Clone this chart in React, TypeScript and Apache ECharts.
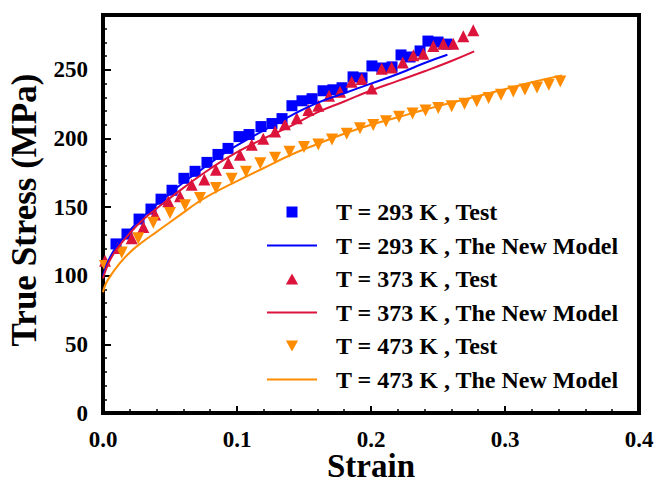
import React, { useEffect, useRef } from "react";
import * as echarts from "echarts";

// x-axis tick values (strain)
const xTickValues = [0, 0.1, 0.2, 0.3, 0.4];
// y-axis tick values (true stress, MPa)
const yTickValues = [0, 50, 100, 150, 200, 250];

const seriesNames = [
  "T = 293 K , Test",
  "T = 293 K , The New Model",
  "T = 373 K , Test",
  "T = 373 K , The New Model",
  "T = 473 K , Test",
  "T = 473 K , The New Model",
];

// T = 293 K test points [strain, stress]
const test293 = [
  [0.0097, 123.2], [0.0179, 130.4], [0.0269, 141.3], [0.0358, 148.6], [0.0433, 155.8],
  [0.0515, 162.3], [0.0604, 171.0], [0.0687, 176.1], [0.0776, 182.6], [0.0858, 188.4],
  [0.0933, 192.8], [0.1015, 201.4], [0.109, 202.9], [0.1179, 208.7], [0.1261, 210.9],
  [0.1336, 214.5], [0.141, 223.9], [0.1485, 227.5], [0.156, 229.0], [0.1642, 234.8],
  [0.1716, 235.5], [0.1784, 237.0], [0.1866, 244.9], [0.1933, 244.2], [0.2007, 252.9],
  [0.2082, 251.4], [0.2157, 252.2], [0.2224, 260.9], [0.2291, 259.4], [0.2366, 263.8],
  [0.2425, 271.0], [0.25, 270.3], [0.2567, 268.8],
];

// T = 293 K model curve
const model293 = [
  [0, 100], [0.002, 106], [0.005, 113], [0.01, 121], [0.02, 133], [0.03, 143], [0.04, 152],
  [0.05, 160], [0.06, 168], [0.07, 175], [0.08, 182], [0.09, 189], [0.1, 195], [0.12, 206],
  [0.14, 216.5], [0.16, 226], [0.18, 233], [0.2, 240], [0.22, 247], [0.24, 255], [0.257, 261],
];

// T = 373 K test points
const test373 = [
  [0.0015, 110.9], [0.0112, 120.3], [0.0214, 127.3], [0.0301, 135.5], [0.0388, 144.7],
  [0.0487, 154.3], [0.0575, 158.0], [0.0662, 166.4], [0.0756, 170.1], [0.0843, 177.3],
  [0.0935, 182.1], [0.1022, 188.2], [0.111, 195.4], [0.1196, 199.8], [0.1284, 205.1],
  [0.1358, 210.4], [0.1446, 214.7], [0.1532, 220.8], [0.1607, 223.9], [0.1687, 231.2],
  [0.1769, 234.1], [0.1856, 241.3], [0.1931, 243.3], [0.2005, 236.4], [0.208, 250.9],
  [0.2154, 251.7], [0.2237, 255.3], [0.2316, 260.7], [0.239, 261.8], [0.2465, 267.4],
  [0.254, 269.1], [0.2614, 269.1], [0.2689, 274.6], [0.2763, 278.8],
];

// T = 373 K model curve
const model373 = [
  [0, 98], [0.002, 104], [0.005, 111], [0.01, 119], [0.02, 131], [0.03, 141], [0.04, 149],
  [0.06, 164], [0.08, 178], [0.1, 190], [0.12, 200], [0.14, 209], [0.16, 219], [0.18, 227],
  [0.2, 235], [0.22, 242], [0.24, 249], [0.26, 256.5], [0.277, 263.5],
];

// T = 473 K test points
const test473 = [
  [0.0015, 107.2], [0.014, 116.9], [0.0263, 127.3], [0.0375, 138.6], [0.05, 145.7],
  [0.0612, 151.4], [0.0724, 156.7], [0.0843, 164.0], [0.096, 170.7], [0.1067, 175.7],
  [0.1174, 181.9], [0.1284, 185.9], [0.1392, 190.4], [0.15, 193.8], [0.1607, 195.7],
  [0.1709, 199.3], [0.1819, 203.5], [0.1918, 207.5], [0.2017, 209.9], [0.2112, 212.6],
  [0.2209, 215.9], [0.231, 218.3], [0.2407, 220.4], [0.2502, 222.2], [0.2602, 223.6],
  [0.2698, 225.4], [0.2789, 227.1], [0.2878, 229.5], [0.297, 231.9], [0.3062, 234.3],
  [0.3149, 235.7], [0.3239, 237.2], [0.3327, 239.1], [0.3413, 241.6],
];

// T = 473 K model curve
const model473 = [
  [0, 88], [0.002, 94], [0.005, 99], [0.01, 106], [0.02, 117], [0.03, 125], [0.04, 132],
  [0.05, 139], [0.06, 146], [0.07, 153], [0.08, 159], [0.1, 169], [0.12, 178.5], [0.14, 188],
  [0.16, 196], [0.18, 203.5], [0.2, 210], [0.22, 215.5], [0.24, 221], [0.26, 226], [0.28, 231],
  [0.3, 236], [0.32, 241], [0.3425, 246],
];

const BLUE = "#0000FF";
const RED = "#DC143C";
const ORANGE = "#FF8C00";
const FONT = "Liberation Serif";

const ICON_SQUARE = "path://M0,0 L10,0 L10,10 L0,10 Z";
const ICON_UP = "path://M5,0 L10,9 L0,9 Z";
const ICON_DOWN = "path://M0,0 L10,0 L5,9 Z";
const ICON_LINE = "path://M0,0 L50,0 L50,2 L0,2 Z";
const legendIcons = [ICON_SQUARE, ICON_LINE, ICON_UP, ICON_LINE, ICON_DOWN, ICON_LINE];

export default function App() {
  const ref = useRef<HTMLDivElement>(null);

  useEffect(() => {
    if (!ref.current) return;
    const chart = echarts.init(ref.current, undefined, { renderer: "svg" });
    const labelStyle = {
      fontFamily: FONT,
      fontWeight: "bold" as const,
      fontSize: 23,
      color: "#000",
    };
    const option = {
      animation: false,
      backgroundColor: "#fff",
      grid: {
        left: 103,
        right: 15,
        top: 15,
        bottom: 67,
        containLabel: false,
        outerBoundsMode: "none",
        show: true,
        borderColor: "#000",
        borderWidth: 4,
        backgroundColor: "transparent",
      },
      legend: {
        orient: "vertical",
        left: 267,
        top: 200,
        padding: 0,
        itemWidth: 50,
        itemHeight: 11,
        itemGap: 9.5,
        symbolKeepAspect: true,
        symbolRotate: 0,
        data: seriesNames.map((name, i) => ({ name, icon: legendIcons[i] })),
        textStyle: {
          fontFamily: FONT,
          fontWeight: "bold",
          fontSize: 24,
          color: "#000",
          padding: [0, 0, 0, 14],
        },
      },
      xAxis: {
        type: "value",
        min: xTickValues[0],
        max: xTickValues[xTickValues.length - 1],
        interval: 0.1,
        name: "Strain",
        nameLocation: "middle",
        nameGap: 40,
        nameMoveOverlap: false,
        nameTextStyle: {
          fontFamily: FONT,
          fontWeight: "bold",
          fontSize: 33,
          lineHeight: 26,
          color: "#000",
        },
        axisLine: { show: true, onZero: false, lineStyle: { color: "#000", width: 4 } },
        axisTick: { show: true, inside: true, length: 7, lineStyle: { color: "#000", width: 2 } },
        minorTick: { show: true, splitNumber: 5, length: 4, lineStyle: { color: "#000", width: 1.5 } },
        splitLine: { show: false },
        axisLabel: { ...labelStyle, margin: 15, formatter: (v: number) => v.toFixed(1) },
      },
      yAxis: [
        {
          type: "value",
          min: 0,
          max: 290,
          interval: 50,
          name: "True Stress (MPa)",
          nameLocation: "middle",
          nameGap: 61,
          nameTextStyle: {
            fontFamily: FONT,
            fontWeight: "bold",
            fontSize: 35,
            color: "#000",
            padding: [0, 0, 0, 8],
          },
          axisLine: { show: true, onZero: false, lineStyle: { color: "#000", width: 4 } },
          axisTick: { show: true, inside: true, length: 8, lineStyle: { color: "#000", width: 2 } },
          splitLine: { show: false },
          axisLabel: {
            ...labelStyle,
            margin: 15,
            showMaxLabel: false,
            formatter: (v: number) => (yTickValues.includes(v) ? String(v) : ""),
          },
        },
        {
          type: "value",
          min: 0,
          max: 290,
          interval: 10,
          position: "left",
          axisLine: { show: false, onZero: false },
          axisTick: { show: true, inside: true, length: 4, lineStyle: { color: "#000", width: 1.5 } },
          splitLine: { show: false },
          axisLabel: { show: false },
        },
      ],
      series: [
        {
          name: seriesNames[0],
          type: "scatter",
          data: test293,
          symbol: "rect",
          symbolSize: 11,
          itemStyle: { color: BLUE, opacity: 1 },
        },
        {
          name: seriesNames[1],
          type: "line",
          data: model293,
          smooth: true,
          showSymbol: false,
          symbol: "none",
          lineStyle: { color: BLUE, width: 2 },
          itemStyle: { color: BLUE },
        },
        {
          name: seriesNames[2],
          type: "scatter",
          data: test373,
          symbol: "triangle",
          symbolSize: 12,
          itemStyle: { color: RED, opacity: 1 },
        },
        {
          name: seriesNames[3],
          type: "line",
          data: model373,
          smooth: true,
          showSymbol: false,
          symbol: "none",
          lineStyle: { color: RED, width: 2 },
          itemStyle: { color: RED },
        },
        {
          name: seriesNames[4],
          type: "scatter",
          data: test473,
          symbol: "triangle",
          symbolRotate: 180,
          symbolSize: 12,
          itemStyle: { color: ORANGE, opacity: 1 },
        },
        {
          name: seriesNames[5],
          type: "line",
          data: model473,
          smooth: true,
          showSymbol: false,
          symbol: "none",
          lineStyle: { color: ORANGE, width: 2 },
          itemStyle: { color: ORANGE },
        },
      ],
    };
    chart.setOption(option as any);
    return () => chart.dispose();
  }, []);

  return <div ref={ref} style={{ width: 654, height: 480, position: "absolute", left: 0, top: 0 }} />;
}
